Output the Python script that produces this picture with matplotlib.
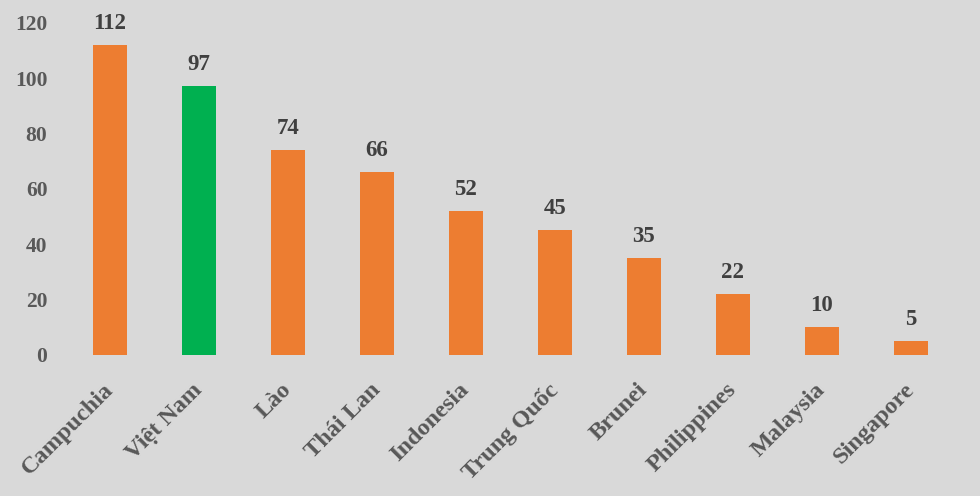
import matplotlib.pyplot as plt

countries = ['Campuchia', 'Việt Nam', 'Lào', 'Thái Lan', 'Indonesia',
             'Trung Quốc', 'Brunei', 'Philippines', 'Malaysia', 'Singapore']
values = [112, 97, 74, 66, 52, 45, 35, 22, 10, 5]
highlight = 'Việt Nam'

bg = '#d9d9d9'
colors = ['#00b050' if c == highlight else '#ed7d31' for c in countries]

plt.rcParams['font.family'] = ['Liberation Serif', 'DejaVu Serif']
plt.rcParams['font.weight'] = 'bold'

fig = plt.figure(figsize=(9.8, 4.96), dpi=100, facecolor=bg)
ax = fig.add_axes([0.0668, 0.2843, 0.9082, 0.6701], facecolor=bg)

x = range(len(countries))
bars = ax.bar(x, values, width=0.39, color=colors)

for b, v in zip(bars, values):
    ax.text(b.get_x() + b.get_width() / 2, v + 4, str(v), ha='center', va='bottom',
            fontsize=16.5, fontweight='bold', color='#404040', clip_on=False)

ax.set_xlim(-0.5, len(countries) - 0.5)
ax.set_ylim(0, 120)
ax.set_yticks(range(0, 121, 20))
ax.set_xticks(list(x))
ax.set_xticklabels(countries, rotation=45, ha='right', va='center',
                   rotation_mode='anchor',
                   fontsize=17.5, fontweight='bold', color='#595959')
for lbl in ax.get_yticklabels():
    lbl.set_fontsize(15.5)
    lbl.set_fontweight('bold')
    lbl.set_color('#595959')
ax.tick_params(length=0)
ax.tick_params(axis='y', pad=13)
ax.tick_params(axis='x', pad=23)
for s in ax.spines.values():
    s.set_visible(False)

fig.savefig('out.png', dpi=100, facecolor=bg)
